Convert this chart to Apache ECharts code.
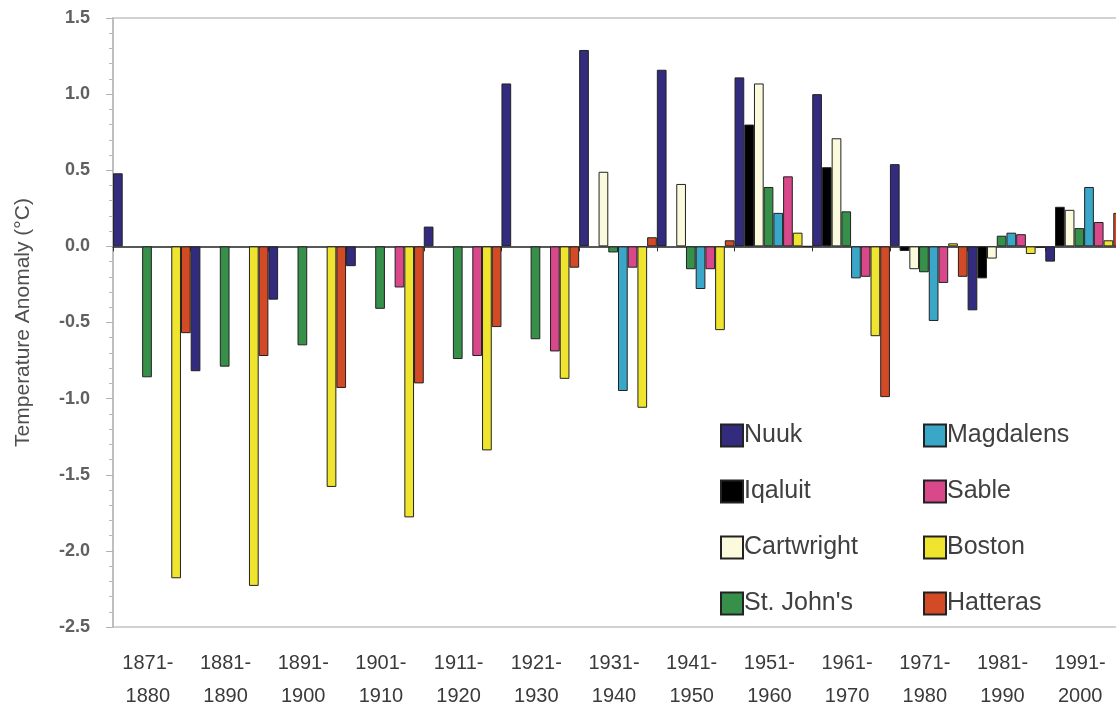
<!DOCTYPE html>
<html>
<head>
<meta charset="utf-8">
<script src="https://cdn.jsdelivr.net/npm/echarts@6/dist/echarts.min.js"></script>
<style>
html,body{margin:0;padding:0;background:#fff;}
#chart{width:1116px;height:710px;}
</style>
</head>
<body>
<div id="chart"></div>
<script>
const categories = ['1871-1880','1881-1890','1891-1900','1901-1910','1911-1920','1921-1930','1931-1940','1941-1950','1951-1960','1961-1970','1971-1980','1981-1990','1991-2000'];
const seriesNames = ['Nuuk','Iqaluit','Cartwright',"St. John's",'Magdalens','Sable','Boston','Hatteras'];
const nuuk       = [0.48, -0.82, -0.35, -0.13, 0.13, 1.07, 1.29, 1.16, 1.11, 1.00, 0.54, -0.42, -0.10];
const iqaluit    = [null, null, null, null, null, null, null, null, 0.80, 0.52, -0.03, -0.21, 0.26];
const cartwright = [null, null, null, null, null, null, 0.49, 0.41, 1.07, 0.71, -0.15, -0.08, 0.24];
const stjohns    = [-0.86, -0.79, -0.65, -0.41, -0.74, -0.61, -0.04, -0.15, 0.39, 0.23, -0.17, 0.07, 0.12];
const magdalens  = [null, null, null, null, null, null, -0.95, -0.28, 0.22, -0.21, -0.49, 0.09, 0.39];
const sable      = [null, null, null, -0.27, -0.72, -0.69, -0.14, -0.15, 0.46, -0.20, -0.24, 0.08, 0.16];
const boston     = [-2.18, -2.23, -1.58, -1.78, -1.34, -0.87, -1.06, -0.55, 0.09, -0.59, 0.02, -0.05, 0.04];
const hatteras   = [-0.57, -0.72, -0.93, -0.90, -0.53, -0.14, 0.06, 0.04, 0.00, -0.99, -0.20, -0.01, 0.22];
const yTicks = [-2.5, -2.0, -1.5, -1.0, -0.5, 0.0, 0.5, 1.0, 1.5];

const values = [nuuk, iqaluit, cartwright, stjohns, magdalens, sable, boston, hatteras];
const colors = ['#322b7e','#000000','#fbfadc','#36904a','#3aa6c8','#d8488a','#efe52e','#d24a26'];
const font = "'Liberation Sans', Arial, sans-serif";

const chart = echarts.init(document.getElementById('chart'), null, {renderer:'canvas'});
const option = {
  backgroundColor: '#ffffff',
  animation: false,
  grid: {left: 113, top: 18, right: -7, bottom: 83, containLabel: false, outerBoundsMode: 'none',
         show: true, borderColor: '#c4c4c4', borderWidth: 1.5, backgroundColor: 'transparent'},
  legend: [
    {data: seriesNames.slice(0,4), orient: 'vertical', left: 715, top: 418, itemWidth: 22, itemHeight: 22, itemGap: 31, icon: 'rect',
     textStyle: {fontFamily: font, fontSize: 25, color: '#404040', lineHeight: 22, padding: [0,0,0,-4]}},
    {data: seriesNames.slice(4), orient: 'vertical', left: 918, top: 418, itemWidth: 22, itemHeight: 22, itemGap: 31, icon: 'rect',
     textStyle: {fontFamily: font, fontSize: 25, color: '#404040', lineHeight: 22, padding: [0,0,0,-4]}}
  ],
  xAxis: [
    {type: 'category', data: categories, position: 'bottom', boundaryGap: true,
     axisLine: {show: false, onZero: false}, axisTick: {show: false}, splitLine: {show: false},
     axisLabel: {interval: 0, margin: 20, fontFamily: font, fontSize: 20, lineHeight: 33, color: '#3a3a3a',
       padding: [0, 8, 0, 0],
       formatter: v => v.replace('-', '-\n')}},
    {type: 'category', data: categories, position: 'bottom', boundaryGap: true,
     axisLine: {show: true, onZero: true, lineStyle: {color: '#222', width: 1.5}},
     axisTick: {show: true, length: 5, lineStyle: {color: '#333'}}, axisLabel: {show: false}, splitLine: {show: false}}
  ],
  yAxis: {
    type: 'value', min: -2.5, max: 1.5, interval: 0.5,
    name: 'Temperature Anomaly (°C)', nameLocation: 'middle', nameGap: 79, nameRotate: 90,
    nameTextStyle: {fontFamily: font, fontSize: 21, color: '#505050'},
    axisLine: {show: true, lineStyle: {color: '#b8b8b8', width: 1.5}},
    axisTick: {show: true, length: 7, lineStyle: {color: '#b0b0b0'}},
    minorTick: {show: true, splitNumber: 5, length: 4, lineStyle: {color: '#b8b8b8'}},
    splitLine: {show: false},
    axisLabel: {margin: 23, fontFamily: font, fontSize: 18, color: '#606060', fontWeight: 'bold',
      formatter: v => (yTicks.indexOf(Math.round(v*10)/10) >= 0 ? v.toFixed(1) : '')}
  },
  series: seriesNames.map((name, i) => ({
    name: name, type: 'bar', xAxisIndex: 0, data: values[i],
    barGap: '0%', barCategoryGap: '0%',
    itemStyle: {color: colors[i], borderColor: '#222', borderWidth: 1}
  }))
};
chart.setOption(option);
</script>
</body>
</html>
